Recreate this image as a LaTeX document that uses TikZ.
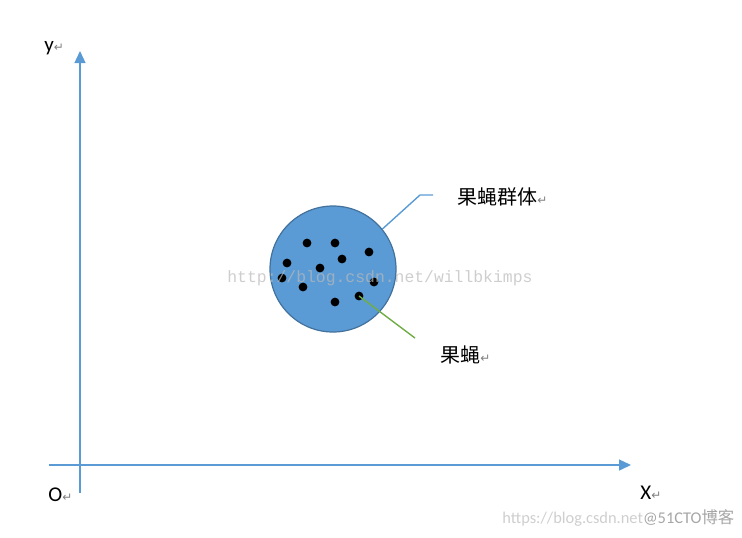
\documentclass[tikz,border=0pt]{standalone}
\usepackage{fontspec}
\setmainfont{Carlito}
\newfontfamily\cjk{Noto Sans CJK SC}
\newfontfamily\symb{DejaVu Sans}
\newfontfamily\wmono{Liberation Mono}
\usetikzlibrary{arrows.meta}
\definecolor{axisblue}{HTML}{5B9BD5}
\definecolor{rimblue}{HTML}{41719C}
\definecolor{leafgreen}{HTML}{70AD47}
\newcommand\crmark{{\symb\color{gray}\fontsize{6}{6}\selectfont ↵}}
\tikzset{
  axis/.style={axisblue,line width=0.7pt,-{Triangle[length=6pt,width=5.5pt]}},
  swarm/.style={circle,fill=axisblue,draw=rimblue,line width=0.6pt,minimum size=63pt,inner sep=0pt},
  fly/.style={circle,fill=black,minimum size=4.4pt,inner sep=0pt},
  lbl/.style={anchor=west,inner sep=0pt,font=\fontsize{10.5}{10.5}\selectfont},
  cjklbl/.style={anchor=west,inner sep=0pt,font=\cjk\fontsize{10}{10}\selectfont},
  wmark/.style={anchor=west,inner sep=0pt,text=gray!55,opacity=0.7}
}
\begin{document}
\begin{tikzpicture}[x=0.5pt,y=-0.5pt]
	\useasboundingbox (0,0) rectangle (742,537);
	% axes
	\coordinate (xs) at (49,465); \coordinate (xe) at (631,465);
	\coordinate (ys) at (80,493); \coordinate (ye) at (80,51);
	\draw[axis] (xs)--(xe);
	\draw[axis] (ys)--(ye);
	\node[lbl] (ylab) at (44,48) {y\crmark};
	\node[lbl] (olab) at (48,495) {O\crmark};
	\node[lbl] (xlab) at (640,493) {X\crmark};
	% fruit fly swarm
	\node[swarm] (swarm) at (333,269) {};
	\foreach \px/\py [count=\i] in {307/243,335/243,369/252,342/259,287/263,320/268,
		282/278,374/282,303/287,359/296,335/302}
	\node[fly] (f\i) at (\px,\py) {};
	% callouts
	\coordinate (knee) at (420,195); \coordinate (tail) at (433,195);
	\draw[axisblue,line width=0.7pt] (swarm.39)--(knee)--(tail);
	\node[cjklbl] (swarmlab) at (457,197) {果蝇群体\crmark};
	\coordinate (flyend) at (415,338);
	\draw[leafgreen,line width=0.7pt] (f10.center)--(flyend);
	\node[cjklbl] (flylab) at (440,355) {果蝇\crmark};
	% watermarks
	\node[wmark,font=\wmono\fontsize{8.2}{8.2}\selectfont] (wm1) at (227,278) {http://blog.csdn.net/willbkimps};
	\node[wmark,font=\fontsize{8.2}{8.2}\selectfont] (wm2) at (502,518) {https://blog.csdn.net\textcolor{gray}{@51CTO{\cjk 博客}}};
\end{tikzpicture}
\end{document}
